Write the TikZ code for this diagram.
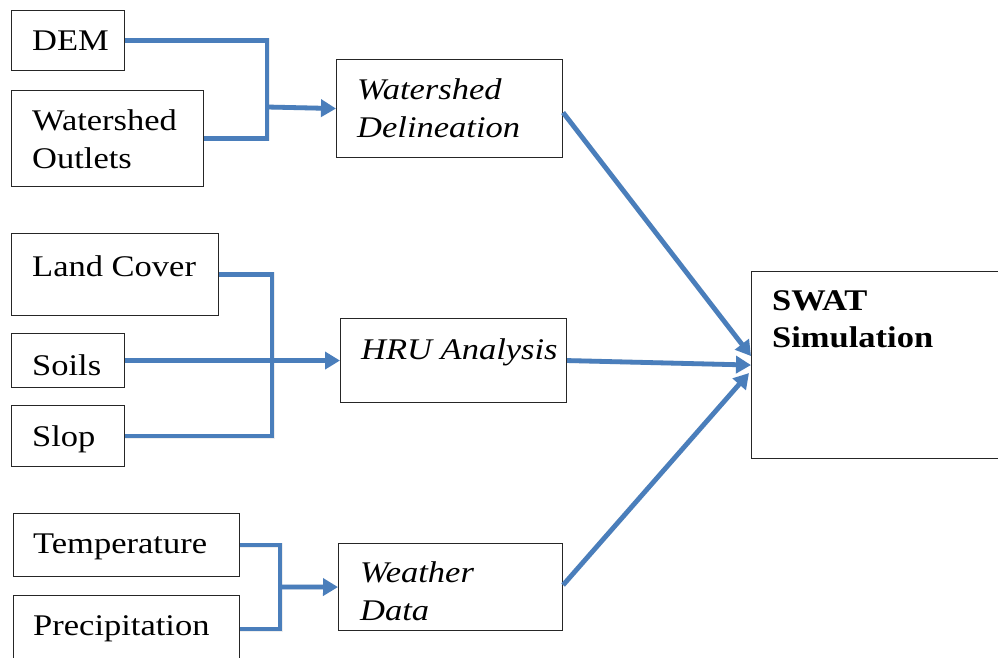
\documentclass[tikz,border=0pt]{standalone}
\usepackage{fontspec}
\setmainfont{Liberation Serif}[FakeStretch=1.15]
\usetikzlibrary{arrows.meta}
\definecolor{linkblue}{HTML}{4A7EBB}
\tikzset{
  box/.style={draw=black!85, line width=1.1pt, rectangle, inner sep=0pt, anchor=north west},
  txt/.style={inner sep=0pt, anchor=north west, align=left, font=\fontsize{30}{38}\selectfont},
  conn/.style={draw=linkblue, line width=4.8pt},
  shade/.style={draw=black, opacity=0.07, line width=5pt},
  flow/.style={conn, -{Triangle[length=15pt,width=17pt]}},
}
\begin{document}
\begin{tikzpicture}[x=1pt, y=-1pt]
\clip (0,0) rectangle (998,658);
\fill[white] (0,0) rectangle (998,658);

% input boxes
\node[box, minimum width=113pt, minimum height=60pt] (dem) at (11,10) {};
\node[box, minimum width=192pt, minimum height=96pt] (outlets) at (11,90) {};
\node[box, minimum width=207pt, minimum height=82pt] (lc) at (11,233) {};
\node[box, minimum width=113pt, minimum height=54pt] (soils) at (11,333) {};
\node[box, minimum width=113pt, minimum height=61pt] (slop) at (11,405) {};
\node[box, minimum width=226pt, minimum height=63pt] (temp) at (13,513) {};
\node[box, minimum width=226pt, minimum height=67pt] (prec) at (13,595) {};

% processing boxes
\node[box, minimum width=226pt, minimum height=98pt] (wd) at (336,59) {};
\node[box, minimum width=226pt, minimum height=84pt] (hru) at (340,318) {};
\node[box, minimum width=224pt, minimum height=87pt] (wdata) at (338,543) {};

% result box
\node[box, minimum width=270pt, minimum height=187pt] (swat) at (751,271) {};

% labels
\node[txt] (tdem) at (32,23.4) {\strut DEM};
\node[txt] (toutlets) at (32,103.4) {\strut Watershed\\Outlets};
\node[txt] (tlc) at (32,249.4) {\strut Land Cover};
\node[txt] (tsoils) at (32,348.4) {\strut Soils};
\node[txt] (tslop) at (32,419.4) {\strut Slop};
\node[txt] (ttemp) at (33,526.4) {\strut Temperature};
\node[txt] (tprec) at (33,608.4) {\strut Precipitation};
\node[txt, font=\fontsize{30}{38}\selectfont\itshape] (twd) at (357,72.4) {\strut Watershed\\Delineation};
\node[txt, font=\fontsize{30}{38}\selectfont\itshape] (thru) at (361,332.4) {\strut HRU Analysis};
\node[txt, font=\fontsize{30}{38}\selectfont\itshape] (twdata) at (360,555.4) {\strut Weather\\Data};
\node[txt, font=\fontsize{30}{37}\selectfont\bfseries] (tswat) at (772,284.4) {\strut SWAT\\Simulation};

% junction points
\coordinate (j1) at (267,107);
\coordinate (j2) at (272,360);
\coordinate (j3) at (280,587);

% soft shadows under the connectors
\begin{scope}[shift={(1,2)}]
\draw[shade] (dem.east) -| (j1) |- (outlets.east);
\draw[shade, shorten >=12pt] (j1) -- (wd.west);
\draw[shade] (lc.east) -| (j2) |- (slop.east);
\draw[shade, shorten >=12pt] (soils.east) -- (hru.west);
\draw[shade] (temp.east) -| (j3) |- (prec.east);
\draw[shade, shorten >=12pt] (j3) -- (wdata.west);
\draw[shade, shorten >=14pt] ([yshift=-4pt]wd.east) -- ([yshift=9pt]swat.west);
\draw[shade, shorten >=14pt] (hru.east) -- (swat.west);
\draw[shade, shorten >=14pt] ([yshift=2pt]wdata.east) -- ([yshift=-8pt,xshift=-2pt]swat.west);
\end{scope}

% connectors
\draw[conn] (dem.east) -| (j1) |- (outlets.east);
\draw[flow] (j1) -- (wd.west);
\draw[conn] (lc.east) -| (j2) |- (slop.east);
\draw[flow] (soils.east) -- (hru.west);
\draw[conn] (temp.east) -| (j3) |- (prec.east);
\draw[flow] (j3) -- (wdata.west);
\draw[flow] ([yshift=-4pt]wd.east) -- ([yshift=9pt]swat.west);
\draw[flow] (hru.east) -- (swat.west);
\draw[flow] ([yshift=2pt]wdata.east) -- ([yshift=-8pt,xshift=-2pt]swat.west);
\end{tikzpicture}
\end{document}
